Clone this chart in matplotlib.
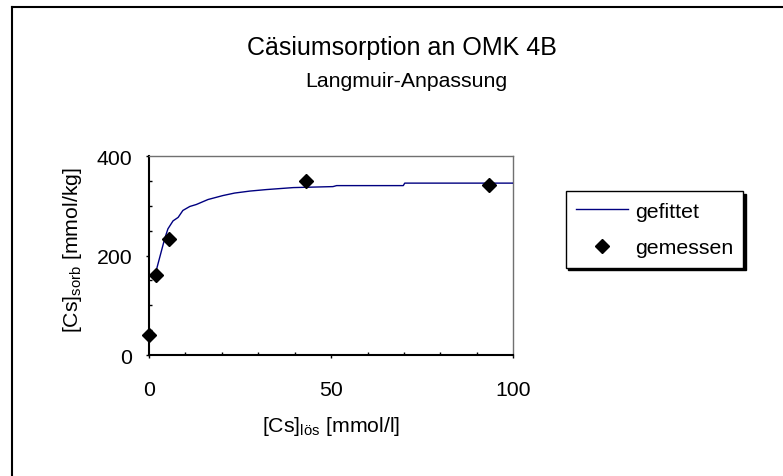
#coding:utf-8
'''
Caesium sorption on OMK 4B, Langmuir fit
'''
import matplotlib
matplotlib.use('Agg')
from matplotlib import pyplot as plt
from matplotlib.ticker import MultipleLocator
from matplotlib.lines import Line2D

# fitted curve
fit_x = [1.8, 2.2, 4.3, 5.2, 6.6, 8.0, 9.3, 11.2, 13.0, 16.2, 20.3, 23.5,
         27.7, 32.2, 39.6, 50.5, 51.5, 69.8, 70.2, 100.0]
fit_y = [165, 176, 234, 254, 270, 277, 291, 299, 303, 313, 321, 326,
         330, 333, 337, 339, 341, 341, 346, 346]

# measured values
mess_x = [0.0, 1.8, 5.5, 43.0, 93.4]
mess_y = [40, 161, 234, 350, 343]

x_ticks = [0, 50, 100]
y_ticks = [0, 200, 400]


def run_main():
    plt.rcParams['font.family'] = ['Liberation Sans', 'DejaVu Sans']
    plt.rcParams['mathtext.default'] = 'regular'
    W, H = 783.0, 477.0
    fig = plt.figure(figsize=(7.83, 4.77), dpi=100)
    ax = fig.add_axes([149 / W, 1 - 356 / H, 364.3 / W, 198.7 / H])

    ax.plot(fit_x, fit_y, color='#000080', lw=1.0, label='gefittet', zorder=3)
    ax.plot(mess_x, mess_y, ls='none', marker='D', ms=7.5, color='black',
            label='gemessen', clip_on=False, zorder=4)

    ax.set_xlim(0, 100)
    ax.set_ylim(0, 400)
    ax.set_xticks(x_ticks)
    ax.set_yticks(y_ticks)
    ax.xaxis.set_minor_locator(MultipleLocator(10))
    ax.yaxis.set_minor_locator(MultipleLocator(50))
    ax.tick_params(which='major', direction='out', length=2.5, width=1,
                   labelsize=15.3, colors='black')
    ax.tick_params(axis='y', which='major', pad=9.5)
    ax.tick_params(axis='x', which='major', pad=15.5)
    ax.tick_params(which='minor', direction='in', length=2.5, width=1)
    for s in ['left', 'bottom']:
        ax.spines[s].set_linewidth(1.5)
        ax.spines[s].set_color('black')
    for s in ['top', 'right']:
        ax.spines[s].set_linewidth(1.0)
        ax.spines[s].set_color('#707070')

    # titles and axis labels
    fig.text(402 / W, 1 - 55 / H, 'Cäsiumsorption an OMK 4B', ha='center',
             va='baseline', fontsize=18)
    fig.text(406 / W, 1 - 87 / H, 'Langmuir-Anpassung', ha='center',
             va='baseline', fontsize=15.3)
    fig.text(72 / W, 1 - 250 / H, '[Cs]$_{sorb}$ [mmol/kg]', rotation=90,
             ha='center', va='center', fontsize=15.3)
    fig.text(331 / W, 1 - 427 / H, '[Cs]$_{lös}$ [mmol/l]', ha='center',
             va='center', fontsize=15.3)

    leg = ax.legend(loc='upper left', bbox_to_anchor=(565.7 / W, 1 - 192.3 / H),
                    bbox_transform=fig.transFigure, fontsize=15.3,
                    frameon=True, fancybox=False, edgecolor='black',
                    framealpha=1, borderpad=0.48, labelspacing=0.84,
                    borderaxespad=0, handlelength=2.45, handletextpad=0.33,
                    numpoints=1, shadow={'color': 'black', 'alpha': 1.0})
    leg.get_frame().set_linewidth(1.0)

    # outer chart frame
    fig.add_artist(Line2D([11.7 / W, 11.7 / W], [0, 1 - 8 / H], color='black',
                          lw=1.5, transform=fig.transFigure))
    fig.add_artist(Line2D([11.7 / W, 1], [1 - 8 / H, 1 - 8 / H], color='black',
                          lw=1.5, transform=fig.transFigure))

    fig.savefig('out.png', dpi=100)
    return ''


if __name__ == '__main__':
    run_main()
